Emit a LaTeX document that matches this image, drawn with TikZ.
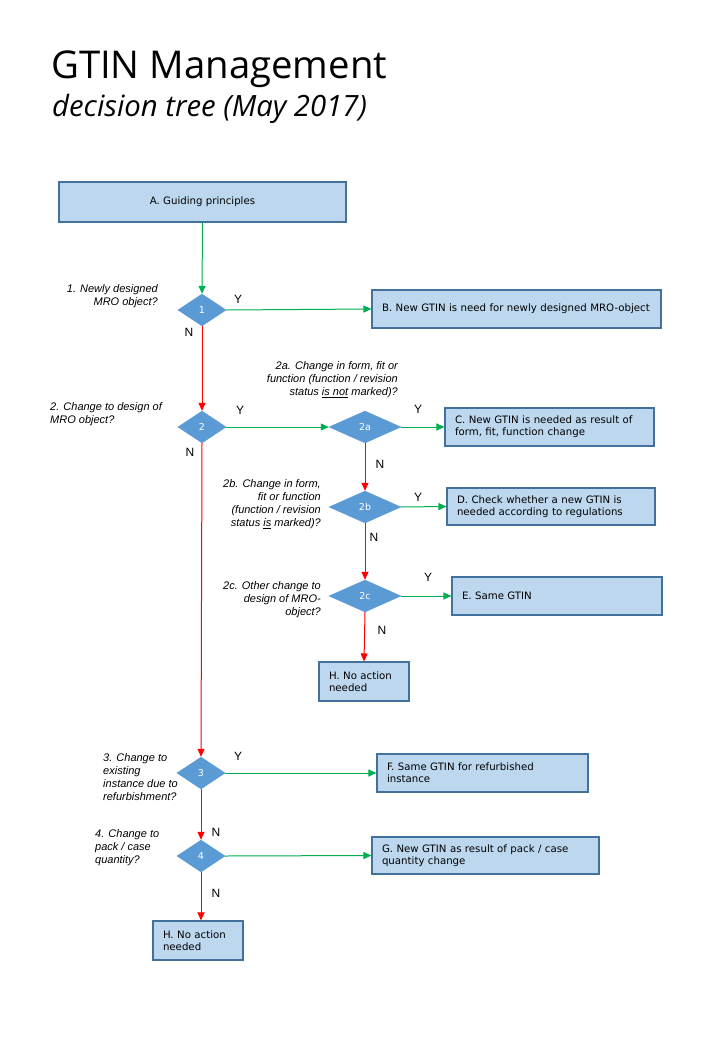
\documentclass[tikz,border=0pt]{standalone}
\usepackage{fontspec}
\setmainfont{DejaVu Sans}
\newfontfamily\labelfont{Liberation Sans}
\newfontfamily\titlefont{Open Sans}
\usetikzlibrary{shapes.geometric,arrows.meta}
\definecolor{boxfill}{HTML}{BDD7EE}
\definecolor{boxline}{HTML}{41719C}
\definecolor{dfill}{HTML}{5B9BD5}
\definecolor{ygreen}{HTML}{00B050}
\definecolor{nred}{HTML}{FF0000}
\tikzset{
  box/.style={draw=boxline, fill=boxfill, line width=1.1pt, inner xsep=10pt, inner ysep=0pt,
    font=\fontsize{10.2}{12}\selectfont, align=left},
  dsmall/.style={shape=diamond, fill=dfill, draw=dfill, inner sep=0pt, minimum width=48pt,
    minimum height=32pt, text=white, font=\fontsize{9.5}{10}\selectfont},
  dwide/.style={dsmall, minimum width=72pt},
  qlabel/.style={inner sep=0pt, font=\labelfont\itshape\fontsize{11}{13}\selectfont},
  yn/.style={inner sep=0pt, font=\labelfont\fontsize{12}{14}\selectfont},
  yes/.style={draw=ygreen, line width=1pt, -{Triangle[length=8pt,width=7pt]}},
  no/.style={draw=nred, line width=1pt, -{Triangle[length=8pt,width=7pt]}},
}
\begin{document}
\begin{tikzpicture}[x=1pt,y=-1pt]
\useasboundingbox[fill=white] (0,0) rectangle (720,1040);
% title
\node[anchor=base west, inner sep=0pt, font=\titlefont\fontsize{38.3}{42}\selectfont] (title) at (51,79) {GTIN Management};
\node[anchor=base west, inner sep=0pt, font=\titlefont\itshape\fontsize{29.3}{32}\selectfont] (subtitle) at (52,117) {decision tree (May 2017)};
% boxes
\node[box, align=center, minimum width=287pt, minimum height=40pt] (A) at (202.5,202) {A. Guiding principles};
\node[box, minimum width=289pt, minimum height=38pt, text width=269pt] (B) at (516.5,309) {B. New GTIN is need for newly designed MRO-object};
\node[box, minimum width=209pt, minimum height=38pt, text width=189pt] (C) at (549.5,427) {C. New GTIN is needed as result of\\form, fit, function change};
\node[box, minimum width=208pt, minimum height=37pt, text width=188pt] (D) at (551,506.5) {D. Check whether a new GTIN is\\needed according to regulations};
\node[box, minimum width=210pt, minimum height=38pt, text width=190pt] (E) at (557,596) {E. Same GTIN};
\node[box, minimum width=90pt, minimum height=39pt, text width=70pt] (H1) at (364,681.5) {H. No action\\needed};
\node[box, minimum width=211pt, minimum height=38pt, text width=191pt] (F) at (482.5,773) {F. Same GTIN for refurbished\\instance};
\node[box, minimum width=227pt, minimum height=37pt, text width=207pt] (G) at (485.5,855.5) {G. New GTIN as result of pack / case\\quantity change};
\node[box, minimum width=90pt, minimum height=39pt, text width=70pt] (H2) at (198,940.5) {H. No action\\needed};
% diamonds
\node[dsmall] (d1) at (202,310) {1};
\node[dsmall] (d2) at (202,427) {2};
\node[dwide] (d2a) at (365,427) {2a};
\node[dwide] (d2b) at (365,507) {2b};
\node[dwide] (d2c) at (365,596) {2c};
\node[dsmall] (d3) at (201,773) {3};
\node[dsmall] (d4) at (201,856) {4};
% question labels
\node[qlabel, align=right, anchor=east] (q1) at (158,296) {1. Newly designed\\MRO object?};
\node[qlabel, align=left, anchor=west] (q2) at (50,414.5) {2. Change to design of\\MRO object?};
\node[qlabel, align=right, anchor=east] (q2a) at (398,380) {2a. Change in form, fit or\\function (function / revision\\status \underline{is not} marked)?};
\node[qlabel, align=right, anchor=east] (q2b) at (321,504) {2b. Change in form,\\fit or function\\(function / revision\\status \underline{is} marked)?};
\node[qlabel, align=right, anchor=east] (q2c) at (321,600) {2c. Other change to\\design of MRO-\\object?};
\node[qlabel, align=left, anchor=west] (q3) at (103,777) {3. Change to\\existing\\instance due to\\refurbishment?};
\node[qlabel, align=left, anchor=west] (q4) at (95,848) {4. Change to\\pack / case\\quantity?};
% Y / N labels
\node[yn] (y1) at (238,299) {Y};
\node[yn] (n1) at (189,332) {N};
\node[yn] (y2) at (240,410) {Y};
\node[yn] (n2) at (190,452) {N};
\node[yn] (y2a) at (418,409) {Y};
\node[yn] (n2a) at (380,464) {N};
\node[yn] (y2b) at (418,497) {Y};
\node[yn] (n2b) at (374,537) {N};
\node[yn] (y2c) at (428,577) {Y};
\node[yn] (n2c) at (382,630) {N};
\node[yn] (y3) at (238,756) {Y};
\node[yn] (n3) at (216,832) {N};
\node[yn] (n4) at (216,893) {N};
% connectors
\draw[yes] (A.south) -- (d1.north);
\draw[yes] (d1.east) -- (B.west);
\draw[no] (d1.south) -- (d2.north);
\draw[yes] (d2.east) -- (d2a.west);
\draw[yes] (d2a.east) -- (C.west);
\draw[no] (d2a.south) -- (d2b.north);
\draw[yes] (d2b.east) -- (D.west);
\draw[no] (d2b.south) -- (d2c.north);
\draw[yes] (d2c.east) -- (E.west);
\draw[no] (d2c.south) -- (H1.north);
\draw[no] (d2.south) -- (d3.north);
\draw[yes] (d3.east) -- (F.west);
\draw[no] (d3.south) -- (d4.north);
\draw[yes] (d4.east) -- (G.west);
\draw[no] (d4.south) -- (d4.south |- H2.north);
\end{tikzpicture}
\end{document}
